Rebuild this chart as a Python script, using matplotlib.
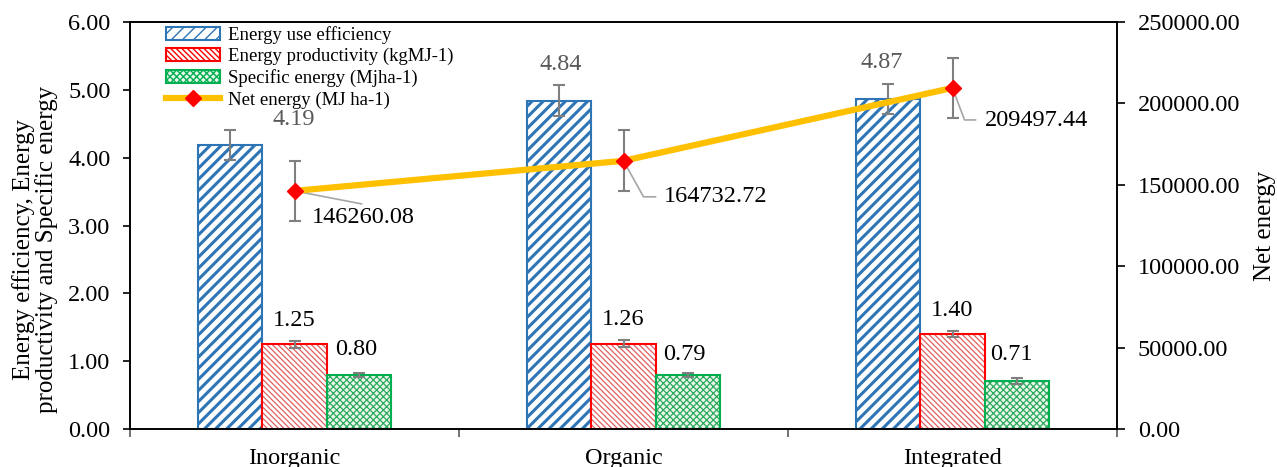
import matplotlib
matplotlib.use("Agg")
import matplotlib.pyplot as plt
from matplotlib.patches import Patch
import numpy as np

plt.rcParams['font.family'] = ['Liberation Serif', 'DejaVu Serif']

# data
categories = ['Inorganic', 'Organic', 'Integrated']
efficiency = [4.19, 4.84, 4.87]
efficiency_err = [0.22, 0.23, 0.22]
productivity = [1.25, 1.26, 1.40]
productivity_err = [0.05, 0.05, 0.05]
specific = [0.80, 0.79, 0.71]
specific_err = [0.03, 0.03, 0.04]
net_energy = [146260.08, 164732.72, 209497.44]
net_energy_err = [18500, 18700, 18500]

W, H = 1277, 467
fig = plt.figure(figsize=(W / 100, H / 100), dpi=100)
ax = fig.add_axes([130 / W, 1 - 429 / H, (1117 - 130) / W, (429 - 22) / H])
ax2 = ax.twinx()

x = np.arange(len(categories))
bw = 0.195
err_kw = dict(ecolor='#7f7f7f', elinewidth=1.5, capsize=4.5, capthick=1.5)

# bar styles: hatch, hatch colour, edge colour, face, hatch width
styles = [
    ('///', '#2e75b6', '#2e75b6', 'white', 2.2),
    ('\\\\\\\\\\\\', '#e06060', '#ff0000', 'white', 0.9),
    ('xxxxx', '#2eaa5c', '#00b050', '#e8f6ec', 0.9),
]


def hatched_bars(xpos, vals, errs, style):
    hatch, hcolor, ecolor, face, hlw = style
    bars = ax.bar(xpos, vals, bw, color=face, edgecolor=hcolor, hatch=hatch, linewidth=0)
    for b in bars:
        if hasattr(b, 'set_hatch_linewidth'):
            b.set_hatch_linewidth(hlw)
    ax.bar(xpos, vals, bw, fill=False, edgecolor=ecolor, linewidth=1.5)
    ax.errorbar(xpos, vals, yerr=errs, fmt='none', **err_kw)


hatched_bars(x - bw, efficiency, efficiency_err, styles[0])
hatched_bars(x, productivity, productivity_err, styles[1])
hatched_bars(x + bw, specific, specific_err, styles[2])

ln, = ax2.plot(x, net_energy, color='#ffc000', lw=4.5, marker='D', markersize=8,
               markerfacecolor='red', markeredgecolor='red', label='Net energy (MJ ha-1)',
               zorder=3)
ax2.errorbar(x, net_energy, yerr=net_energy_err, fmt='none', zorder=2, **err_kw)

ax.set_xlim(-0.5, 2.5)
ax.set_ylim(0, 6)
ax2.set_ylim(0, 250000)
ax.set_yticks(np.arange(0, 6.01, 1))
ax.set_yticklabels([f'{v:.2f}' for v in np.arange(0, 6.01, 1)])
ax2.set_yticks(np.arange(0, 250001, 50000))
ax2.set_yticklabels([f'{v:.2f}' for v in np.arange(0, 250001, 50000)])

ax.set_xticks([-0.5, 0.5, 1.5, 2.5])
ax.set_xticklabels([])
ax.set_xticks(x, minor=True)
ax.set_xticklabels(categories, minor=True)
ax.tick_params(axis='x', which='major', length=6, width=1.2, color='#595959')
ax.tick_params(axis='x', which='minor', length=0, pad=14, labelsize=17.5)
ax.tick_params(axis='y', labelsize=17.5, length=5, width=1.2, pad=9)
ax2.tick_params(axis='y', labelsize=17.5, length=6, width=1.2, pad=9)

for a in (ax, ax2):
    for s in a.spines.values():
        s.set_linewidth(1.2)

ax.set_ylabel('Energy efficiency, Energy\nproductivity and Specific energy',
              fontsize=18, linespacing=1.0)
ax.yaxis.set_label_coords(-0.073, 0.44)
ax2.set_ylabel('Net energy', fontsize=18)
ax2.yaxis.set_label_coords(1.139, 0.5)

# value labels (offsets in pixels)
blue_off = [(63, 25), (1, 36), (-7, 36)]
for xi, v, (dx, dy) in zip(x - bw, efficiency, blue_off):
    ax.annotate(f'{v:.2f}', (xi, v), xytext=(dx, dy), textcoords='offset pixels',
                ha='center', va='center', fontsize=17.5, color='#595959')
for xi, v in zip(x, productivity):
    ax.annotate(f'{v:.2f}', (xi, v), xytext=(0, 24), textcoords='offset pixels',
                ha='center', va='center', fontsize=17.5, color='black')
green_off = [(-2, 25), (-3, 21), (-5, 26)]
for xi, v, (dx, dy) in zip(x + bw, specific, green_off):
    ax.annotate(f'{v:.2f}', (xi, v), xytext=(dx, dy), textcoords='offset pixels',
                ha='center', va='center', fontsize=17.5, color='black')

# net energy labels with leader lines
net_text_off = [(17, -27), (40, -36), (32, -33)]
net_leader = [[(0, 0), (67, -13)],
              [(0, 0), (20, -36), (32, -36)],
              [(0, 0), (12, -32), (23, -32)]]
fig.canvas.draw()
for xi, v, (dx, dy), path in zip(x, net_energy, net_text_off, net_leader):
    ax2.annotate(f'{v:.2f}', (xi, v), xytext=(dx, dy), textcoords='offset pixels',
                 ha='left', va='center', fontsize=17.5, color='black')
    p0 = ax2.transData.transform((xi, v))
    pts = np.array([p0 + np.array(o) for o in path])
    dpts = ax2.transData.inverted().transform(pts)
    ax2.plot(dpts[:, 0], dpts[:, 1], color='#a6a6a6', lw=1.2, zorder=2.5)

labels = ['Energy use efficiency', 'Energy productivity (kgMJ-1)', 'Specific energy (Mjha-1)']
handles = []
for (hatch, hcolor, ecolor, face, hlw) in styles:
    p = Patch(facecolor=face, edgecolor=ecolor, hatch=hatch, linewidth=1.5)
    handles.append(p)
handles.append(ln)
labels.append(ln.get_label())
leg = ax2.legend(handles, labels, loc='upper left', bbox_to_anchor=(162 / W, 1 - 22 / H),
                 bbox_transform=fig.transFigure, frameon=False, fontsize=13.5,
                 handlelength=2.9, handleheight=0.7, labelspacing=0.22,
                 handletextpad=0.4, borderaxespad=0, borderpad=0.2)

fig.savefig('out.png', dpi=100)
